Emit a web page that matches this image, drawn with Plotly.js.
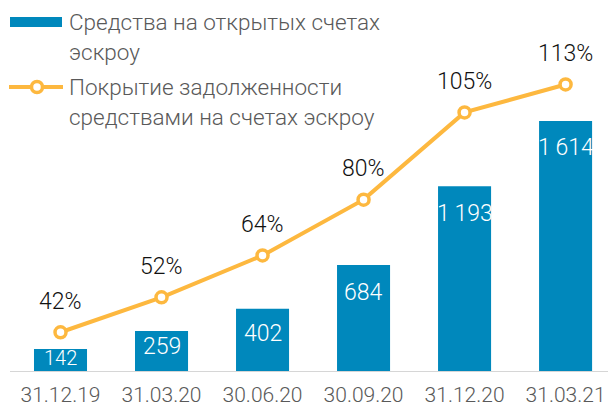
<!DOCTYPE html>
<html>
<head>
<meta charset="utf-8">
<script src="https://cdn.plot.ly/plotly-3.0.1.min.js"></script>
<style>
  html, body { margin: 0; padding: 0; background: #fff; }
  #chart { width: 608px; height: 406px; }
</style>
</head>
<body>
<div id="chart"></div>
<script>
// ---- data ----
var categories = ['31.12.19', '31.03.20', '30.06.20', '30.09.20', '31.12.20', '31.03.21'];
var escrowFunds = [142, 259, 402, 684, 1193, 1614];
var coveragePct = [42, 52, 64, 80, 105, 113];
var legendNames = ['Средства на открытых счетах', 'эскроу', 'Покрытие задолженности', 'средствами на счетах эскроу'];

// ---- layout constants ----
var W = 608, H = 406;
var mL = 10, mR = 0, mT = 0, mB = 35;
var plotW = W - mL - mR, plotH = H - mT - mB;
var yMax = 2395;
var y2Range = [30.9, 137.2];
var barColor = '#0088bc';
var lineColor = '#fdb83f';
var font = 'Roboto, "Open Sans", sans-serif';

function px2x(px) { return (px - mL) / plotW; }
function py2y(py) { return (H - mB - py) / plotH; }

function fmt(v) {
  var s = String(v);
  return s.length > 3 ? s.slice(0, s.length - 3) + '\u2009' + s.slice(-3) : s;
}

var traces = [
  {
    type: 'bar',
    x: categories,
    y: escrowFunds,
    marker: { color: barColor },
    width: 0.525,
    hoverinfo: 'skip',
    showlegend: false
  },
  {
    type: 'scatter',
    mode: 'lines+markers',
    x: categories,
    y: coveragePct,
    yaxis: 'y2',
    line: { color: lineColor, width: 4 },
    marker: { size: 11, color: '#ffffff', line: { color: lineColor, width: 3.5 } },
    hoverinfo: 'skip',
    showlegend: false,
    cliponaxis: false
  }
];

var annotations = [];
// bar value labels
escrowFunds.forEach(function (v, i) {
  var hPx = v * plotH / yMax;
  annotations.push({
    x: categories[i], y: v, xref: 'x', yref: 'y',
    text: fmt(v), showarrow: false,
    yshift: -Math.min(27, 0.4 * hPx),
    font: { family: font, size: (hPx < 30 ? 20 : 23), color: '#ffffff', weight: 300 }
  });
});
// percentage labels
coveragePct.forEach(function (v, i) {
  annotations.push({
    x: categories[i], y: v, xref: 'x', yref: 'y2',
    text: v + '%', showarrow: false, yshift: 31,
    font: { family: font, size: 23, color: '#111111', weight: 300 }
  });
});
// legend texts
var legendY = [22, 52, 87, 117];
legendNames.forEach(function (t, i) {
  annotations.push({
    x: px2x(67), y: py2y(legendY[i]), xref: 'paper', yref: 'paper',
    xanchor: 'left', yanchor: 'middle', text: t, showarrow: false,
    font: { family: font, size: 22.5, color: '#595959', weight: 300 }
  });
});

var shapes = [
  { type: 'rect', xref: 'paper', yref: 'paper',
    x0: px2x(10), x1: px2x(62), y0: py2y(27), y1: py2y(17),
    fillcolor: barColor, line: { width: 0 } },
  { type: 'line', xref: 'paper', yref: 'paper',
    x0: px2x(9), x1: px2x(63), y0: py2y(87), y1: py2y(87),
    line: { color: lineColor, width: 4 } },
  { type: 'circle', xref: 'paper', yref: 'paper',
    xsizemode: 'pixel', ysizemode: 'pixel',
    xanchor: px2x(37), yanchor: py2y(87),
    x0: -5.5, x1: 5.5, y0: -5.5, y1: 5.5,
    fillcolor: '#ffffff', line: { color: lineColor, width: 3.5 } }
];

var layout = {
  width: W, height: H,
  margin: { l: mL, r: mR, t: mT, b: mB, pad: 0 },
  paper_bgcolor: '#ffffff',
  plot_bgcolor: '#ffffff',
  showlegend: false,
  xaxis: {
    type: 'category',
    range: [-0.5, 5.42],
    showline: true, linecolor: '#d6d6d6', linewidth: 1,
    showgrid: false, zeroline: false, ticks: '',
    tickfont: { family: font, size: 21, color: '#595959', weight: 300 },
    ticklabelstandoff: 5
  },
  yaxis: {
    range: [0, yMax], visible: false, showgrid: false, zeroline: false
  },
  yaxis2: {
    range: y2Range, overlaying: 'y', visible: false, showgrid: false, zeroline: false
  },
  annotations: annotations,
  shapes: shapes,
  hovermode: false
};

Plotly.newPlot('chart', traces, layout, { staticPlot: true, displayModeBar: false });
</script>
</body>
</html>
